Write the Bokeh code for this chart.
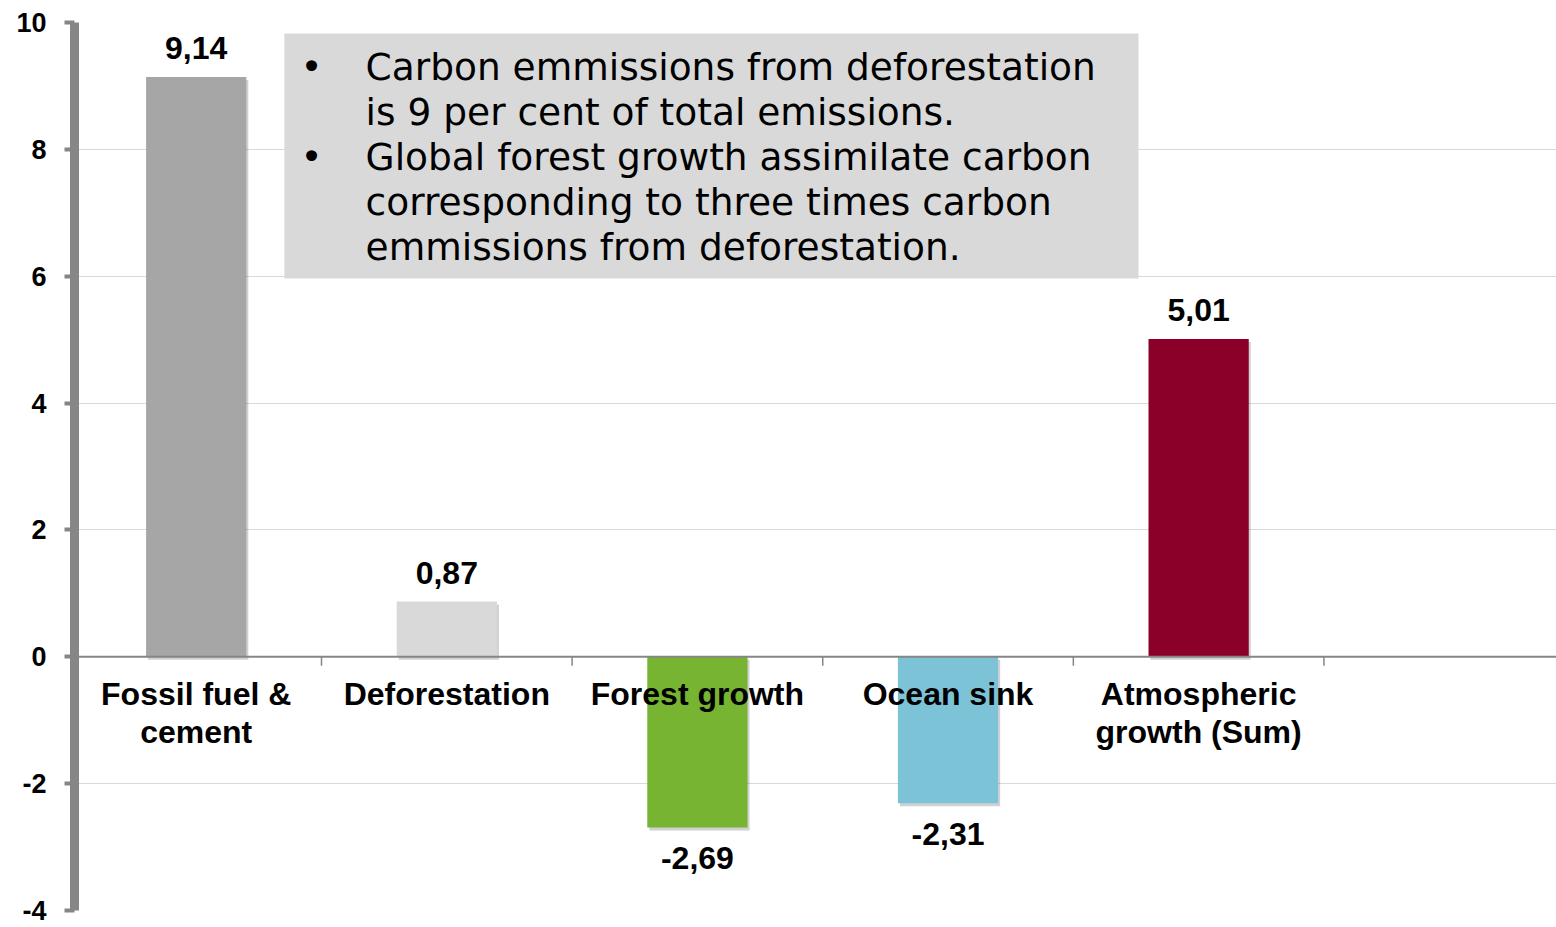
from bokeh.plotting import figure
from bokeh.models import Range1d, FixedTicker, Span, ColumnDataSource
from bokeh.core.properties import value
from bokeh.embed import file_html
from bokeh.resources import INLINE

# ---- data ----
categories = ["Fossil fuel &\ncement", "Deforestation", "Forest growth", "Ocean sink", "Atmospheric\ngrowth (Sum)"]
values = [9.14, 0.87, -2.69, -2.31, 5.01]
colors = ["#A6A6A6", "#D9D9D9", "#76B432", "#7DC3D8", "#8B0029"]
y_ticks = [-4, -2, 0, 2, 4, 6, 8, 10]
note_lines = [
    ("\u2022", "Carbon emmissions from deforestation"),
    ("", "is 9 per cent of total emissions."),
    ("\u2022", "Global forest growth assimilate carbon"),
    ("", "corresponding to three times carbon"),
    ("", "emmissions from deforestation."),
]

n = len(categories)
xc = [i + 0.5 for i in range(n)]
labels = [f"{v:.2f}".replace(".", ",") for v in values]

W, H = 1556, 927
TOP, BOT, LEFT = 22, 17, 74
PXY = (H - TOP - BOT) / 14.0
p = figure(width=W, height=H, output_backend="svg", toolbar_location=None,
           x_range=Range1d(0.0144, 5.928), y_range=Range1d(-4, 10),
           min_border_left=LEFT, min_border_right=0, min_border_top=TOP, min_border_bottom=BOT)
p.outline_line_color = None
p.xaxis.visible = False
p.xgrid.visible = False
p.ygrid.ticker = FixedTicker(ticks=y_ticks)
p.ygrid.grid_line_color = "#D9D9D9"
p.ygrid.grid_line_width = 1

ax = p.yaxis[0]
ax.ticker = FixedTicker(ticks=y_ticks)
ax.major_label_overrides = {t: str(t) for t in y_ticks}
ax.axis_line_color = "#868686"
ax.axis_line_width = 9
ax.major_tick_line_color = "#868686"
ax.major_tick_line_width = 4
ax.major_tick_out = 10
ax.major_tick_in = 0
ax.minor_tick_line_color = None
ax.major_label_standoff = 18
ax.major_label_text_font = "Liberation Sans"
ax.major_label_text_font_style = "bold"
ax.major_label_text_font_size = "27px"
ax.major_label_text_color = "#000000"

# note box
p.quad(left=0.852, right=4.260, top=10 - 11 / PXY, bottom=10 - 256 / PXY, fill_color="#D9D9D9", line_color=None)

# zero axis line and category boundary ticks
p.add_layout(Span(location=0, dimension="width", line_color="#868686", line_width=2))
bounds = list(range(1, n + 1))
p.segment(x0=bounds, x1=bounds, y0=[0] * len(bounds), y1=[-9 / PXY] * len(bounds),
          line_color="#868686", line_width=1.5)

# shadows + bars
src = ColumnDataSource(dict(x=xc, top=values, bottom=[0] * n, color=colors, label=labels, cat=categories))
p.vbar(x=[x + 0.008 for x in xc], width=0.40,
       top=[max(v, 0) - 3 / PXY for v in values], bottom=[min(v, 0) - 3 / PXY for v in values],
       fill_color="#000000", fill_alpha=0.18, line_color=None)
p.vbar(x="x", top="top", bottom="bottom", width=0.40, fill_color="color", line_color=None, source=src)

# value labels
pos_x = [x for x, v in zip(xc, values) if v >= 0]
pos_v = [v for v in values if v >= 0]
pos_l = [l for l, v in zip(labels, values) if v >= 0]
neg_x = [x for x, v in zip(xc, values) if v < 0]
neg_v = [v for v in values if v < 0]
neg_l = [l for l, v in zip(labels, values) if v < 0]
common = dict(text_font=value("Liberation Sans"), text_font_style="bold", text_font_size="32px",
              text_color="#000000", text_align="center", text_baseline="alphabetic")
p.text(x=pos_x, y=pos_v, text=pos_l, y_offset=-29, **common)
p.text(x=neg_x, y=neg_v, text=neg_l, y_offset=31, **common)

# category labels
p.text(x="x", y="bottom", text="cat", source=src, y_offset=19,
       text_font=value("Liberation Sans"), text_font_style="bold", text_font_size="32px",
       text_color="#000000", text_align="center", text_baseline="top", text_line_height=1.06)

# note text
y0 = 10 - 44 / PXY
step = 45 / PXY
by, ty, bt, tt = [], [], [], []
for i, (b, t) in enumerate(note_lines):
    yy = y0 - i * step
    if b:
        by.append(yy); bt.append(b)
    ty.append(yy); tt.append(t)
p.text(x=[0.960] * len(by), y=by, text=bt, text_font=value("DejaVu Sans"), text_font_size="37.5px",
       text_color="#000000", text_align="center", text_baseline="alphabetic")
p.text(x=[1.176] * len(ty), y=ty, text=tt, text_font=value("DejaVu Sans"), text_font_size="37.5px",
       text_color="#000000", text_align="left", text_baseline="alphabetic")

open("out.html", "w").write(file_html(p, INLINE))
